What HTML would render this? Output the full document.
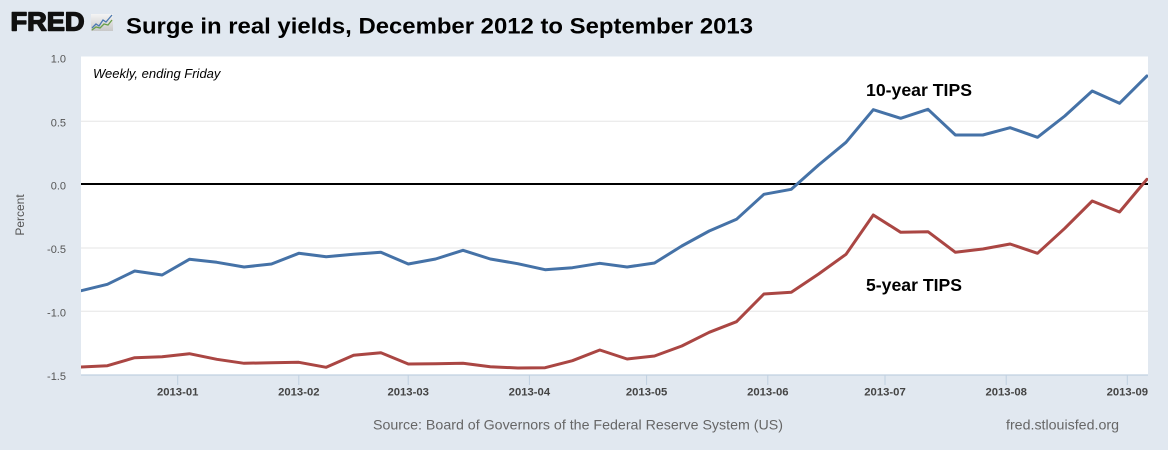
<!DOCTYPE html>
<html><head><meta charset="utf-8"><style>
html,body{margin:0;padding:0;background:#e1e8f0;}
svg{display:block;}
</style></head><body>
<svg width="1168" height="450" viewBox="0 0 1168 450" xmlns="http://www.w3.org/2000/svg" font-family="'Liberation Sans', Arial, sans-serif">
<defs>
<clipPath id="pc"><rect x="81" y="56" width="1067" height="319"/></clipPath>
<linearGradient id="ig" x1="0" y1="0" x2="0" y2="1"><stop offset="0" stop-color="#f4f4f4"/><stop offset="1" stop-color="#c8c8c8"/></linearGradient>
</defs>
<rect x="0" y="0" width="1168" height="450" fill="#e1e8f0"/>
<!-- header -->
<text x="10.5" y="30.3" font-size="25.5" font-weight="bold" fill="#111" stroke="#111" stroke-width="1.4" stroke-linejoin="round" textLength="74" lengthAdjust="spacingAndGlyphs">FRED</text>
<rect x="91" y="14" width="22" height="17" fill="url(#ig)"/>
<polyline points="92,28 96,24 99,26 103,20 106,22 112,15" fill="none" stroke="#4a78b0" stroke-width="1.3"/>
<polyline points="92,30 96,27 100,28 104,24 108,25 112,20" fill="none" stroke="#6aa04a" stroke-width="1.3"/>
<text x="126" y="33.3" font-size="22" font-weight="bold" fill="#000" textLength="627" lengthAdjust="spacingAndGlyphs">Surge in real yields, December 2012 to September 2013</text>
<!-- plot area -->
<rect x="81" y="56.5" width="1067" height="318.5" fill="#ffffff"/>
<g stroke="#e6e6e6" stroke-width="1">
<line x1="81" y1="121.3" x2="1148" y2="121.3"/>
<line x1="81" y1="248" x2="1148" y2="248"/>
<line x1="81" y1="311.3" x2="1148" y2="311.3"/>
</g>
<line x1="81" y1="375" x2="1148" y2="375" stroke="#c0d0e0" stroke-width="1.2"/>
<g stroke="#c0d0e0" stroke-width="1">
<line x1="177.7" y1="375" x2="177.7" y2="385"/>
<line x1="298.8" y1="375" x2="298.8" y2="385"/>
<line x1="408.2" y1="375" x2="408.2" y2="385"/>
<line x1="529.4" y1="375" x2="529.4" y2="385"/>
<line x1="646.6" y1="375" x2="646.6" y2="385"/>
<line x1="767.8" y1="375" x2="767.8" y2="385"/>
<line x1="885" y1="375" x2="885" y2="385"/>
<line x1="1006.2" y1="375" x2="1006.2" y2="385"/>
<line x1="1127.3" y1="375" x2="1127.3" y2="385"/>
</g>
<line x1="81" y1="184" x2="1148" y2="184" stroke="#000" stroke-width="2"/>
<g clip-path="url(#pc)" fill="none" stroke-width="3" stroke-linejoin="round" stroke-linecap="round">
<path stroke="#4572a7" d="M80,291 L107.4,284.3 L134.7,271 L162.1,275 L189.4,259.3 L216.8,262.3 L244.1,267 L271.5,264 L298.8,253.3 L326.2,256.7 L353.6,254.3 L380.9,252.3 L408.3,264 L435.6,259 L463,250.3 L490.3,259 L517.7,263.7 L545.1,269.7 L572.4,267.7 L599.8,263.3 L627.1,267 L654.5,263 L681.8,246 L709.2,231 L736.5,219.3 L763.9,194.3 L791.3,189.3 L818.6,165 L846,142.3 L873.3,109.7 L900.7,118.3 L928,109.3 L955.4,135 L982.8,135 L1010.1,127.7 L1037.5,137.3 L1064.8,116 L1092.2,91 L1119.5,103.3 L1146.9,76"/>
<path stroke="#aa4643" d="M80,367 L107.4,365.7 L134.7,357.7 L162.1,356.7 L189.4,353.7 L216.8,359.3 L244.1,363.3 L271.5,362.7 L298.8,362.3 L326.2,367.3 L353.6,355.3 L380.9,352.7 L408.3,364 L435.6,363.7 L463,363.3 L490.3,366.7 L517.7,368 L545.1,367.7 L572.4,360.7 L599.8,350 L627.1,359 L654.5,356 L681.8,346 L709.2,332.3 L736.5,321.7 L763.9,294 L791.3,292.3 L818.6,274 L846,254.3 L873.3,215 L900.7,232.3 L928,231.7 L955.4,252.3 L982.8,249 L1010.1,244 L1037.5,253.3 L1064.8,228.3 L1092.2,201 L1119.5,212 L1146.9,179.3"/>
</g>
<!-- annotations -->
<text x="93" y="78" font-size="13" font-style="italic" fill="#000">Weekly, ending Friday</text>
<text x="866" y="96" font-size="17.7" font-weight="bold" fill="#000" textLength="106" lengthAdjust="spacingAndGlyphs">10-year TIPS</text>
<text x="866" y="291" font-size="17.7" font-weight="bold" fill="#000" textLength="96" lengthAdjust="spacingAndGlyphs">5-year TIPS</text>
<!-- y axis labels -->
<g font-size="11" fill="#555" text-anchor="end">
<text x="66" y="62.3">1.0</text>
<text x="66" y="126.3">0.5</text>
<text x="66" y="189.3">0.0</text>
<text x="66" y="253">-0.5</text>
<text x="66" y="316.3">-1.0</text>
<text x="66" y="380">-1.5</text>
</g>
<text transform="translate(24,215) rotate(-90)" font-size="12" fill="#555" text-anchor="middle">Percent</text>
<!-- x axis labels -->
<g font-size="11.3" font-weight="bold" fill="#444" text-anchor="middle">
<text x="177.7" y="395.7">2013-01</text>
<text x="298.8" y="395.7">2013-02</text>
<text x="408.2" y="395.7">2013-03</text>
<text x="529.4" y="395.7">2013-04</text>
<text x="646.6" y="395.7">2013-05</text>
<text x="767.8" y="395.7">2013-06</text>
<text x="885" y="395.7">2013-07</text>
<text x="1006.2" y="395.7">2013-08</text>
<text x="1127.3" y="395.7">2013-09</text>
</g>
<!-- footer -->
<text x="373" y="429.5" font-size="14" fill="#666" textLength="410" lengthAdjust="spacingAndGlyphs">Source: Board of Governors of the Federal Reserve System (US)</text>
<text x="1006" y="429.5" font-size="14" fill="#666" textLength="113" lengthAdjust="spacingAndGlyphs">fred.stlouisfed.org</text>
</svg>
</body></html>
